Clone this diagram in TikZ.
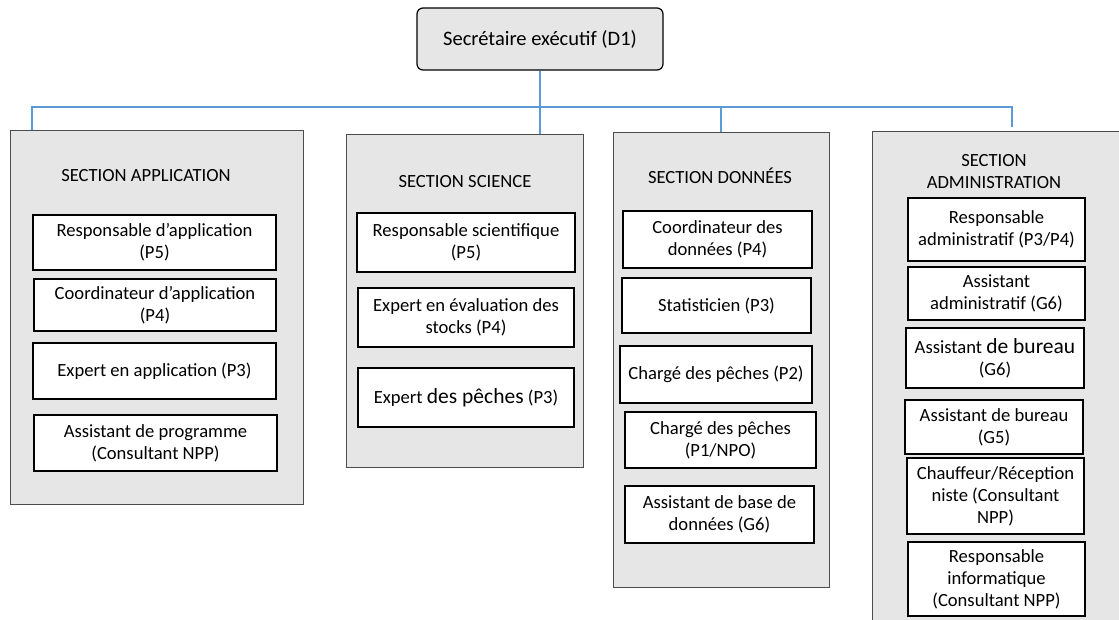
\documentclass[tikz,border=0pt]{standalone}
\usepackage{fontspec}
\setmainfont{Carlito}
\definecolor{secfill}{HTML}{E6E6E6}
\definecolor{linkblue}{HTML}{5B9BD5}

\begin{document}
\begin{tikzpicture}[
  x=1pt, y=-1pt,
  font=\fontsize{18.6}{22}\selectfont,
  head/.style={draw, rounded corners=6pt, fill=secfill, line width=1.2pt, align=center,
    font=\fontsize{20.5}{24}\selectfont},
  section/.style={draw=black!70, fill=secfill, line width=1pt},
  post/.style={draw, fill=white, line width=1.2pt, align=center, inner sep=2pt},
  title/.style={align=center, inner sep=0pt},
  link/.style={draw=linkblue, line width=2pt}
]
\useasboundingbox (0,0) rectangle (1119,619);

\node[head, minimum width=246pt, minimum height=62pt] (sec) at (540,39)
  {Secrétaire exécutif (D1)};

\node[section, minimum width=293pt, minimum height=374pt] (app) at (156.5,317) {};
\node[section, minimum width=237pt, minimum height=333pt] (sci) at (464.5,300.5) {};
\node[section, minimum width=216pt, minimum height=455pt] (don) at (721,359.5) {};
\node[section, minimum width=268pt, minimum height=509pt] (adm) at (1006,385.5) {};

\node[title] (apptitle) at (146,176) {SECTION APPLICATION};
\node[title] (scititle) at (465,182) {SECTION SCIENCE};
\node[title] (dontitle) at (720,176) {SECTION DONNÉES};
\node[title] (admtitle) at (994,172) {SECTION\\ADMINISTRATION};

\node[post, minimum width=243pt, minimum height=55pt] (app1) at (154.5,242.5)
  {Responsable d’application\\(P5)};
\node[post, minimum width=242pt, minimum height=52pt] (app2) at (155,305)
  {Coordinateur d’application\\(P4)};
\node[post, minimum width=243pt, minimum height=56pt] (app3) at (154.5,371)
  {Expert en application (P3)};
\node[post, minimum width=243pt, minimum height=56pt] (app4) at (155.5,443)
  {Assistant de programme\\(Consultant NPP)};

\node[post, minimum width=218pt, minimum height=59pt] (sci1) at (466,242.5)
  {Responsable scientifique\\(P5)};
\node[post, minimum width=216pt, minimum height=59pt] (sci2) at (466,317.5)
  {Expert en évaluation des\\stocks (P4)};
\node[post, minimum width=216pt, minimum height=59pt] (sci3) at (466,397.5)
  {Expert {\fontsize{21.5}{22}\selectfont des pêches} (P3)};

\node[post, minimum width=189pt, minimum height=57pt] (don1) at (717.5,239.5)
  {Coordinateur des\\données (P4)};
\node[post, minimum width=189pt, minimum height=55pt] (don2) at (716.5,305.5)
  {Statisticien (P3)};
\node[post, minimum width=192pt, minimum height=57pt] (don3) at (716,374.5)
  {Chargé des pêches (P2)};
\node[post, minimum width=191pt, minimum height=56pt] (don4) at (720.5,440)
  {Chargé des pêches\\(P1/NPO)};
\node[post, minimum width=189pt, minimum height=57pt] (don5) at (719.5,514.5)
  {Assistant de base de\\données (G6)};

\node[post, minimum width=177pt, minimum height=63pt] (adm1) at (996.5,229.5)
  {Responsable\\administratif (P3/P4)};
\node[post, minimum width=177pt, minimum height=53pt] (adm2) at (996.5,293.5)
  {Assistant\\administratif (G6)};
\node[post, minimum width=178pt, minimum height=60pt] (adm3) at (995,358)
  {Assistant {\fontsize{21.5}{22}\selectfont de bureau}\\(G6)};
\node[post, minimum width=178pt, minimum height=54pt] (adm4) at (994,427)
  {Assistant de bureau\\(G5)};
\node[post, minimum width=177pt, minimum height=76pt] (adm5) at (995.5,496)
  {Chauffeur/Réception\\niste (Consultant\\NPP)};
\node[post, minimum width=177pt, minimum height=74pt] (adm6) at (996.5,579)
  {Responsable\\informatique\\(Consultant NPP)};

\coordinate (busl) at (32,107);
\coordinate (busr) at (1012,107);
\coordinate (admdrop) at (1012,127);
\draw[link] (sec.south) -- (sec.south |- sci.north);
\draw[link] (busl |- app.north) -- (busl) -- (busr) -- (admdrop);
\draw[link] (don.north) -- (don.north |- busl);
\end{tikzpicture}
\end{document}
